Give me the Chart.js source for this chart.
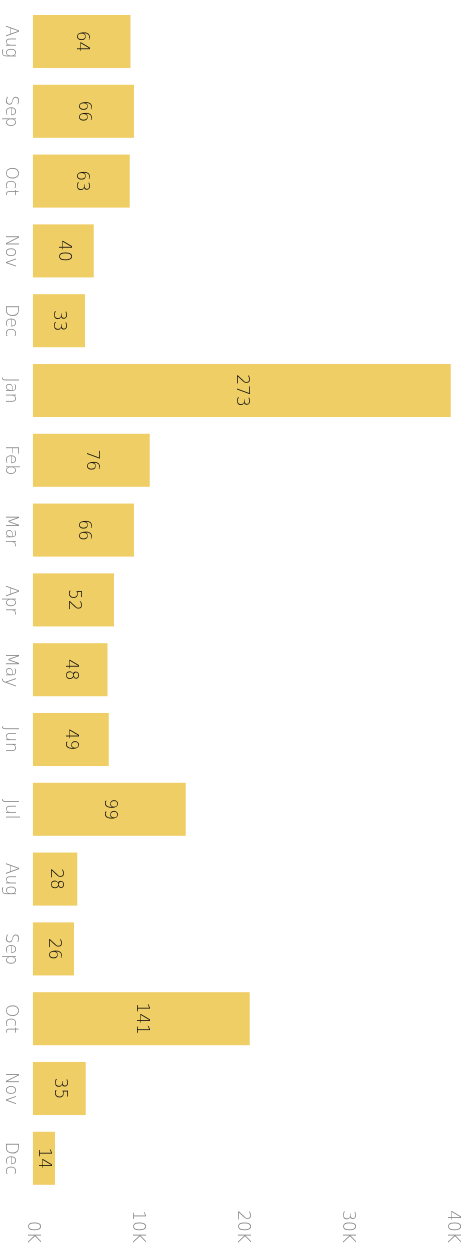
<!DOCTYPE html>
<html lang="en">
<head>
    <meta charset="UTF-8">
    <title>Monthly Totals</title>
    <script src="https://cdn.jsdelivr.net/npm/chart.js"></script>
    <style>
        html, body { margin: 0; padding: 0; overflow: hidden; background: #fff; }
        /* chart is drawn landscape, then turned a quarter clockwise */
        #wrap {
            position: absolute; top: 0; left: 0;
            width: 1243px; height: 468px;
            transform-origin: 0 0;
            transform: translateX(468px) rotate(90deg);
        }
    </style>
</head>
<body>
    <div id="wrap"><canvas id="barChart" width="1243" height="468"></canvas></div>

    <script>
        const months = ['Aug', 'Sep', 'Oct', 'Nov', 'Dec', 'Jan', 'Feb', 'Mar', 'Apr',
                        'May', 'Jun', 'Jul', 'Aug', 'Sep', 'Oct', 'Nov', 'Dec'];
        // bar length (amount)
        const amounts = [9320, 9670, 9260, 5830, 4980, 39870, 11160, 9670, 7760,
                         7140, 7260, 14590, 4240, 3930, 20700, 5070, 2120];
        // number printed inside each bar
        const counts = [64, 66, 63, 40, 33, 273, 76, 66, 52, 48, 49, 99, 28, 26, 141, 35, 14];
        const valueTicks = [0, 10000, 20000, 30000, 40000];

        const FONT = "'DejaVu Sans', sans-serif";

        // writes the count in the middle of every bar
        const countLabels = {
            id: 'countLabels',
            afterDatasetsDraw(chart) {
                const ctx = chart.ctx;
                const meta = chart.getDatasetMeta(0);
                ctx.save();
                ctx.font = '300 17px ' + FONT;
                ctx.fillStyle = '#111';
                ctx.textAlign = 'center';
                ctx.textBaseline = 'middle';
                meta.data.forEach((bar, i) => {
                    ctx.fillText(String(counts[i]), bar.x, (bar.y + bar.base) / 2);
                });
                ctx.restore();
            }
        };

        // keep the plot box exactly where the padding puts it
        function noOverflow(scale) {
            scale.paddingTop = 0;
            scale.paddingBottom = 0;
            scale.paddingLeft = 0;
            scale.paddingRight = 0;
        }

        new Chart(document.getElementById('barChart'), {
            type: 'bar',
            data: {
                labels: months,
                datasets: [{
                    data: amounts,
                    backgroundColor: '#F0CE66',
                    borderWidth: 0,
                    categoryPercentage: 0.8,
                    barPercentage: 0.95
                }]
            },
            options: {
                responsive: false,
                animation: false,
                devicePixelRatio: 1,
                layout: { padding: { top: 16, left: 6.6, right: 0, bottom: 0 } },
                plugins: { legend: { display: false }, tooltip: { enabled: false } },
                scales: {
                    x: {
                        grid: { display: false, drawTicks: false },
                        border: { display: false },
                        ticks: { color: '#888', font: { family: FONT, size: 17, weight: '300' }, padding: 12, maxRotation: 0, autoSkip: false },
                        afterFit(scale) { scale.height = 32.7; noOverflow(scale); }
                    },
                    y: {
                        position: 'right',
                        min: 0,
                        max: 40000,
                        grid: { display: false, drawTicks: false },
                        border: { display: false },
                        afterBuildTicks(scale) { scale.ticks = valueTicks.map(v => ({ value: v })); },
                        ticks: {
                            color: '#888',
                            font: { family: FONT, size: 17, weight: '300' },
                            padding: 16,
                            crossAlign: 'far',
                            callback: v => (v / 1000) + 'K'
                        },
                        afterFit(scale) { scale.width = 49.8; noOverflow(scale); }
                    }
                }
            },
            plugins: [countLabels]
        });
    </script>
</body>
</html>
